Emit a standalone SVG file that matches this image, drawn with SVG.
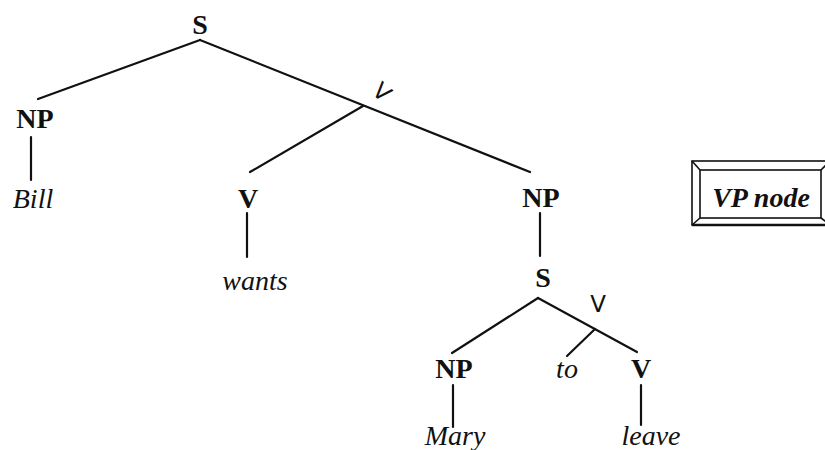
<svg xmlns="http://www.w3.org/2000/svg" width="825" height="450" viewBox="0 0 825 450">
<style>
.cat{font-family:"Liberation Serif","Times New Roman",serif;font-weight:bold;font-size:28px;text-anchor:middle;fill:#111}
.word{font-family:"Liberation Serif","Times New Roman",serif;font-style:italic;font-size:28px;text-anchor:middle;fill:#111}
.bar{font-family:"DejaVu Sans","Liberation Sans",sans-serif;font-weight:normal;font-size:23px;text-anchor:middle;fill:#111}
.edge{stroke:#111;stroke-width:2.2;fill:none;stroke-linecap:round}
.frame{stroke:#111;stroke-width:1.6;fill:none}
</style>
<rect width="825" height="450" fill="#fff"/>
<g id="connectors">
<line class="edge" x1="200" y1="40" x2="38" y2="99"/>
<line class="edge" x1="200" y1="40" x2="530" y2="172"/>
<line class="edge" x1="363" y1="106" x2="250" y2="172"/>
<line class="edge" x1="31" y1="137" x2="31" y2="180"/>
<line class="edge" x1="247" y1="213" x2="247" y2="257"/>
<line class="edge" x1="540" y1="213" x2="540" y2="256"/>
<line class="edge" x1="538" y1="298" x2="452" y2="353"/>
<line class="edge" x1="538" y1="298" x2="637" y2="352"/>
<line class="edge" x1="595" y1="329" x2="567" y2="356"/>
<line class="edge" x1="453" y1="385" x2="453" y2="427"/>
<line class="edge" x1="641" y1="385" x2="641" y2="425"/>
</g>
<g id="node-S-root"><text class="cat" x="200" y="34">S</text></g>
<g id="node-NP-subj"><text class="cat" x="35" y="128">NP</text></g>
<g id="node-Bill"><text class="word" x="33" y="208">Bill</text></g>
<g id="node-Vbar-1"><text class="bar" x="382" y="100" transform="rotate(42 382 92)">V</text></g>
<g id="node-V-wants"><text class="cat" x="248" y="208">V</text></g>
<g id="node-wants"><text class="word" x="255" y="290">wants</text></g>
<g id="node-NP-obj"><text class="cat" x="541" y="207">NP</text></g>
<g id="node-S-emb"><text class="cat" x="543" y="287">S</text></g>
<g id="node-Vbar-2"><text class="bar" x="598" y="312">V</text></g>
<g id="node-NP-Mary"><text class="cat" x="454" y="378">NP</text></g>
<g id="node-to"><text class="word" x="567" y="378">to</text></g>
<g id="node-V-leave"><text class="cat" x="641" y="378">V</text></g>
<g id="node-Mary"><text class="word" x="455" y="445">Mary</text></g>
<g id="node-leave"><text class="word" x="651" y="445">leave</text></g>
<g id="node-VP-label">
<rect class="frame" x="692" y="161" width="140" height="64"/>
<line x1="692" y1="225" x2="832" y2="225" stroke="#111" stroke-width="2.6"/>
<rect class="frame" x="700" y="170" width="121" height="48"/>
<line class="frame" x1="692" y1="161" x2="700" y2="170"/>
<line class="frame" x1="692" y1="225" x2="700" y2="218"/>
<line class="frame" x1="821" y1="170" x2="830" y2="161"/>
<line class="frame" x1="821" y1="218" x2="830" y2="225"/>
<text class="cat" x="761" y="207" font-style="italic">VP node</text>
</g>
</svg>
